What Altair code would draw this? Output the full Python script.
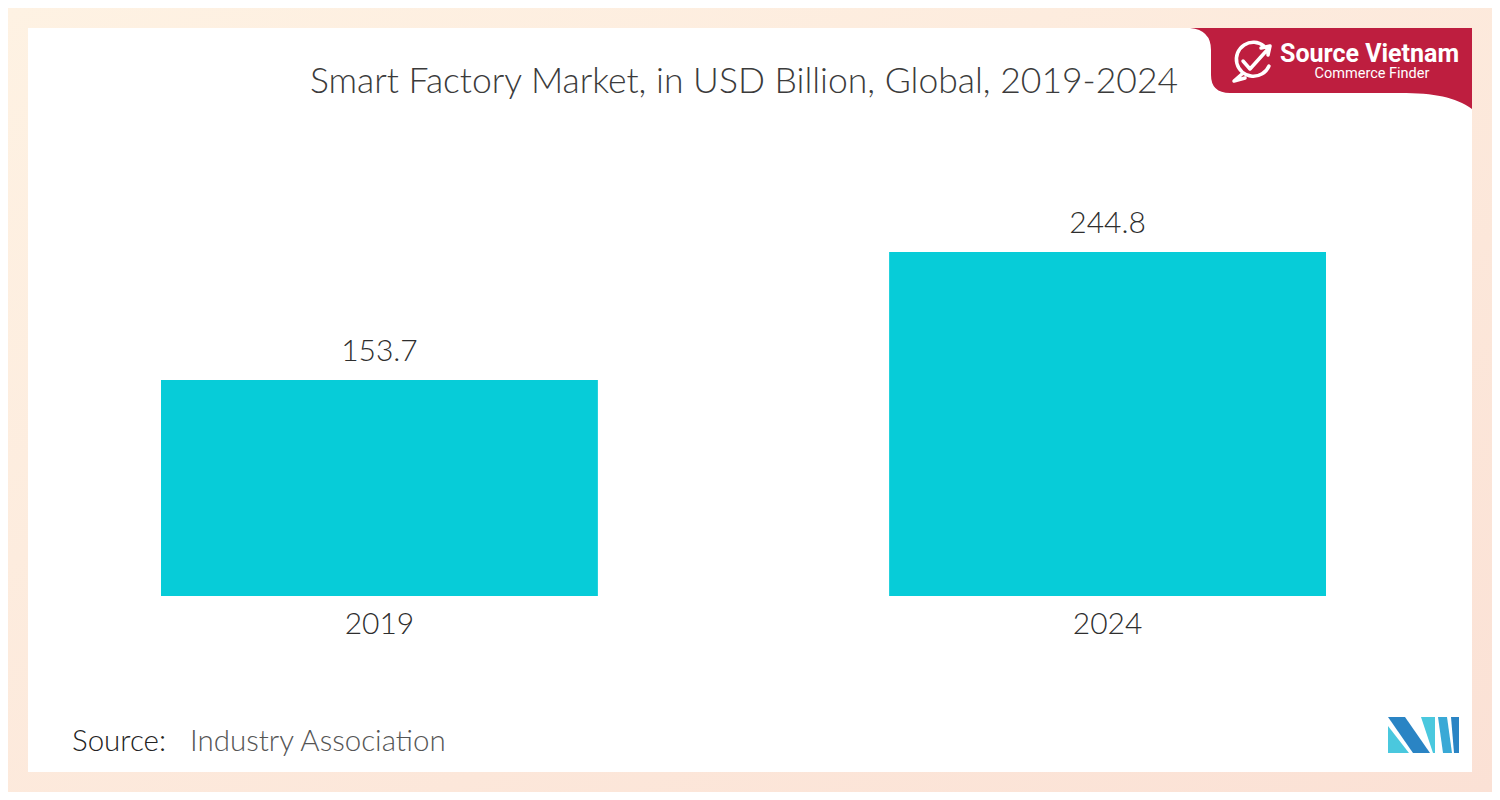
import altair as alt
import pandas as pd

# ---- data ----
years = ["2019", "2024"]
values = [153.7, 244.8]
title_text = "Smart Factory Market, in USD Billion, Global, 2019-2024"
source_label = "Source:"
source_name = "Industry Association"
brand_name = "Source Vietnam"
brand_tag = "Commerce Finder"

W, H = 1484, 784


def P(v):
    # page pixel -> chart pixel (page has 8px margin)
    return v - 8


def sym_path(polys, cx, cy, half, close=True):
    out = []
    for poly in polys:
        seg = []
        for i, (x, y) in enumerate(poly):
            seg.append(("M" if i == 0 else "L") + f"{(x - cx) / half:.4f},{(y - cy) / half:.4f}")
        out.append(" ".join(seg) + (" Z" if close else ""))
    return " ".join(out)


def cmd_path(items, cx, cy, half):
    s = []
    for it in items:
        if isinstance(it, str):
            s.append(it)
        else:
            x, y = it
            s.append(f"{(x - cx) / half:.4f},{(y - cy) / half:.4f}")
    return " ".join(s)


bars_df = pd.DataFrame({"year": years, "value": values})
one = pd.DataFrame({"k": [0]})

x_scale = alt.Scale(domain=years, range=[P(161), P(1326)], paddingInner=0.4, paddingOuter=0)
y_scale = alt.Scale(domain=[0, max(values)], range=[P(596), P(252)], nice=False, zero=True)

FONT = "Lato"

bg = alt.Chart(one).mark_rect(
    color=alt.LinearGradient(
        gradient="linear",
        stops=[alt.GradientStop(color="#FEF2E3", offset=0),
               alt.GradientStop(color="#FBE1D5", offset=1)],
        x1=0, x2=1, y1=0, y2=1,
    )
).encode(x=alt.value(0), x2=alt.value(W), y=alt.value(0), y2=alt.value(H))

card = alt.Chart(one).mark_rect(color="white").encode(
    x=alt.value(P(28)), x2=alt.value(P(1472)), y=alt.value(P(28)), y2=alt.value(P(772))
)

# badge (top right)
bcx, bcy, bhalf = P(1330), P(69), 142
badge_path = cmd_path(
    ["M", (P(1190), P(28)), "L", (P(1472), P(28)), "L", (P(1472), P(109)),
     "C", (P(1455), P(97)), (P(1435), P(93)), (P(1400), P(93)),
     "L", (P(1230), P(93)),
     "Q", (P(1211), P(93)), (P(1211), P(75)),
     "L", (P(1211), P(50)),
     "Q", (P(1211), P(30)), (P(1190), P(28)), "Z"],
    bcx, bcy, bhalf,
)
badge = alt.Chart(one).mark_point(filled=True, opacity=1, strokeWidth=0, color="#BE1E3F").encode(
    x=alt.value(bcx), y=alt.value(bcy), shape=alt.value(badge_path), size=alt.value((2 * bhalf) ** 2)
)

icx, icy, ihalf = P(1252), P(62), 22
icon_path = cmd_path(
    ["M", (P(1264), P(46)), "A", "0.7727,0.7727", "0", "1", "0", (P(1269), P(66)),
     "M", (P(1242), P(74)), "L", (P(1234), P(81)), "L", (P(1245), P(78)),
     "M", (P(1243), P(61)), "L", (P(1250), P(69)), "L", (P(1268), P(49)),
     "M", (P(1261), P(48)), "L", (P(1270), P(46)), "L", (P(1268), P(55))],
    icx, icy, ihalf,
)
icon = alt.Chart(one).mark_point(filled=False, opacity=1, strokeWidth=3.5, color="white",
                                 strokeCap="round", strokeJoin="round").encode(
    x=alt.value(icx), y=alt.value(icy), shape=alt.value(icon_path), size=alt.value((2 * ihalf) ** 2)
)

brand1 = alt.Chart(one).mark_text(
    text=brand_name, font="Roboto", fontWeight="bold", fontSize=25, color="white",
    align="left", baseline="middle"
).encode(x=alt.value(P(1280)), y=alt.value(P(54)))
brand2 = alt.Chart(one).mark_text(
    text=brand_tag, font="Roboto", fontSize=14.5, color="white",
    align="center", baseline="middle"
).encode(x=alt.value(P(1372)), y=alt.value(P(74)))

# MI logo (bottom right)
lx, ly = 1388, 717
lcx, lcy, lhalf = P(lx + 35.5), P(ly + 18), 35.5


def L(pts):
    return [(P(lx + a), P(ly + b)) for a, b in pts]


logo_parts = [
    (L([(0, 9), (0, 36), (21, 36)]), "#4AC8DE"),
    (L([(0, 0), (17, 0), (42, 36), (25, 36)]), "#2A84C4"),
    (L([(33, 0), (47, 0), (47, 36), (45, 36)]), "#4AC8DE"),
    (L([(50, 0), (59, 0), (64, 36), (55, 36)]), "#39A9D6"),
    (L([(63, 0), (71, 0), (71, 36), (66, 36)]), "#2A84C4"),
]
logo_layers = []
for poly, col in logo_parts:
    logo_layers.append(
        alt.Chart(one).mark_point(filled=True, opacity=1, strokeWidth=0, color=col).encode(
            x=alt.value(lcx), y=alt.value(lcy),
            shape=alt.value(sym_path([poly], lcx, lcy, lhalf)),
            size=alt.value((2 * lhalf) ** 2),
        )
    )

title = alt.Chart(one).mark_text(
    text=title_text, font=FONT, fontWeight=300, fontSize=35.5, color="#3b3b3b",
    align="center", baseline="middle"
).encode(x=alt.value(P(744)), y=alt.value(P(82)))

bars = alt.Chart(bars_df).mark_bar(color="#07CCD8").encode(
    x=alt.X("year:N", scale=x_scale, axis=None),
    y=alt.Y("value:Q", scale=y_scale, axis=None),
)
value_labels = alt.Chart(bars_df).mark_text(
    font=FONT, fontWeight=300, fontSize=30, color="#2e2e2e", baseline="middle", dy=-28
).encode(
    x=alt.X("year:N", scale=x_scale, axis=None),
    y=alt.Y("value:Q", scale=y_scale, axis=None),
    text=alt.Text("value:Q", format=".1f"),
)
year_labels = alt.Chart(bars_df).mark_text(
    font=FONT, fontWeight=300, fontSize=30, color="#2e2e2e", baseline="middle"
).encode(
    x=alt.X("year:N", scale=x_scale, axis=None),
    y=alt.value(P(625)),
    text="year:N",
)

src1 = alt.Chart(one).mark_text(
    text=source_label, font=FONT, fontWeight=300, fontSize=29.5, color="#222222", align="left",
    baseline="middle"
).encode(x=alt.value(P(72)), y=alt.value(P(742)))
src2 = alt.Chart(one).mark_text(
    text=source_name, font=FONT, fontWeight=300, fontSize=29.5, color="#555555", align="left",
    baseline="middle"
).encode(x=alt.value(P(190)), y=alt.value(P(742)))

chart = alt.layer(
    bg, card, badge, icon, brand1, brand2, *logo_layers, title,
    bars, value_labels, year_labels, src1, src2
).properties(
    width=W, height=H, autosize=alt.AutoSizeParams(type="none"), padding=0,
    background="#FEF2E3",
).configure_view(stroke=None)

chart.save("out.html", embed_options={"renderer": "svg", "actions": False})
